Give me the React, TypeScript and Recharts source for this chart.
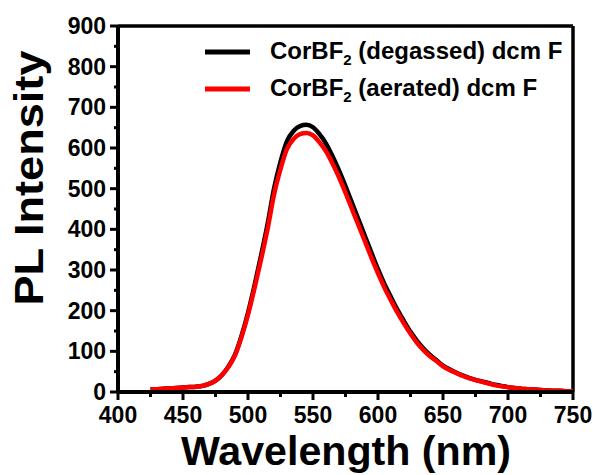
import React from 'react';
import { LineChart, Line, XAxis, YAxis, ReferenceLine, Legend, Label } from 'recharts';

// Emission wavelengths (nm)
const wavelengths = [
  425, 430, 435, 440, 445, 450, 455, 460, 465, 470, 475, 480, 485, 490, 495, 500,
  505, 510, 515, 520, 525, 530, 535, 540, 545, 550, 555, 560, 565, 570, 575, 580,
  585, 590, 595, 600, 605, 610, 615, 620, 625, 630, 635, 640, 645, 650, 655, 660,
  665, 670, 675, 680, 685, 690, 695, 700, 705, 710, 715, 720, 725, 730, 735, 740,
  745, 750,
];

// PL intensity, degassed solution
const degassed = [
  6, 7, 8, 9, 10, 11, 12, 13, 15, 20, 28, 42, 63, 92, 138, 195,
  262, 335, 412, 500, 566, 617, 642, 654, 657, 651, 634, 611, 580, 545, 506, 465,
  424, 383, 342, 302, 265, 233, 202, 174, 148, 126, 107, 91, 78, 65, 56, 48,
  41, 35, 30, 26, 22, 18, 15, 12, 10, 8, 7, 6, 5, 4, 3, 3,
  2, 2,
];

// PL intensity, aerated solution
const aerated = [
  6, 7, 8, 9, 10, 11, 12, 13, 15, 20, 28, 42, 62, 90, 135, 190,
  255, 325, 400, 485, 548, 598, 622, 634, 637, 631, 614, 592, 562, 528, 490, 450,
  410, 370, 330, 292, 256, 225, 195, 168, 143, 121, 103, 88, 76, 63, 54, 47,
  40, 34, 29, 25, 21, 17, 14, 12, 10, 8, 7, 6, 5, 4, 3, 3,
  2, 2,
];

const xTicks = [400, 425, 450, 475, 500, 525, 550, 575, 600, 625, 650, 675, 700, 725, 750];
const yTicks = [0, 50, 100, 150, 200, 250, 300, 350, 400, 450, 500, 550, 600, 650, 700, 750, 800, 850, 900];

const seriesNames = ['degassed', 'aerated'];
const seriesColors = ['#000000', '#ff0000'];

const data = wavelengths.map((wl, i) => ({ wl, degassed: degassed[i], aerated: aerated[i] }));

const FONT = '"Liberation Sans", Arial, sans-serif';

const YTick = (props: any) => {
  const { x, y, payload } = props;
  const major = payload.value % 100 === 0;
  return (
    <g>
      <line x1={x} x2={x - (major ? 8 : 4)} y1={y} y2={y} stroke="#000" strokeWidth={3} />
      {major && (
        <text x={x - 12} y={y + 8} textAnchor="end" fontFamily={FONT} fontWeight="bold" fontSize={23} fill="#000">
          {payload.value}
        </text>
      )}
    </g>
  );
};

const XTick = (props: any) => {
  const { x, y, payload } = props;
  const major = payload.value % 50 === 0;
  return (
    <g>
      <line x1={x} x2={x} y1={y} y2={y + (major ? 8 : 5)} stroke="#000" strokeWidth={3} />
      {major && (
        <text x={x} y={y + 31} textAnchor="middle" fontFamily={FONT} fontWeight="bold" fontSize={23} fill="#000">
          {payload.value}
        </text>
      )}
    </g>
  );
};

const LegendBox = () => (
  <svg width={380} height={80} style={{ display: 'block' }}>
    {seriesNames.map((name, i) => (
      <g key={name}>
        <line x1={5} x2={50} y1={22 + i * 37} y2={22 + i * 37} stroke={seriesColors[i]} strokeWidth={5} />
        <text x={70} y={29 + i * 37} fontFamily={FONT} fontWeight="bold" fontSize={24} fill="#000">
          CorBF
          <tspan dy={6} fontSize={15}>2</tspan>
          <tspan dy={-6}>{` (${name}) dcm F`}</tspan>
        </text>
      </g>
    ))}
  </svg>
);

export default function App() {
  return (
    <div style={{ position: 'absolute', left: 0, top: 0, width: 593, height: 475, background: '#fff' }}>
      <LineChart width={593} height={475} data={data} margin={{ top: 26, right: 20, bottom: 0, left: 0 }}>
        <XAxis
          dataKey="wl"
          type="number"
          domain={[400, 750]}
          ticks={xTicks}
          interval={0}
          tickSize={0}
          tickMargin={0}
          tickLine={false}
          tick={<XTick />}
          axisLine={{ stroke: '#000', strokeWidth: 4 }}
          height={83}
        >
          <Label
            content={() => (
              <text
                x={346}
                y={465}
                textAnchor="middle"
                textLength={330}
                lengthAdjust="spacingAndGlyphs"
                fontFamily={FONT}
                fontWeight="bold"
                fontSize={40}
                fill="#000"
              >
                Wavelength (nm)
              </text>
            )}
          />
        </XAxis>
        <YAxis
          type="number"
          domain={[0, 900]}
          ticks={yTicks}
          interval={0}
          tickSize={0}
          tickMargin={0}
          tickLine={false}
          tick={<YTick />}
          axisLine={{ stroke: '#000', strokeWidth: 4 }}
          width={118}
        >
          <Label
            content={() => (
              <text
                x={43}
                y={178}
                transform="rotate(-90 43 178)"
                textAnchor="middle"
                textLength={255}
                lengthAdjust="spacingAndGlyphs"
                fontFamily={FONT}
                fontWeight="bold"
                fontSize={40}
                fill="#000"
              >
                PL Intensity
              </text>
            )}
          />
        </YAxis>
        <ReferenceLine y={900} stroke="#000" strokeWidth={3.5} />
        <ReferenceLine x={750} stroke="#000" strokeWidth={3.5} />
        <Legend
          layout="vertical"
          align="center"
          verticalAlign="middle"
          content={() => <LegendBox />}
          wrapperStyle={{ position: 'absolute', left: 200, top: 30, width: 380, height: 80 }}
        />
        <Line
          type="monotone"
          dataKey="degassed"
          stroke={seriesColors[0]}
          strokeWidth={4.5}
          dot={false}
          isAnimationActive={false}
        />
        <Line
          type="monotone"
          dataKey="aerated"
          stroke={seriesColors[1]}
          strokeWidth={4.5}
          dot={false}
          isAnimationActive={false}
        />
      </LineChart>
    </div>
  );
}
